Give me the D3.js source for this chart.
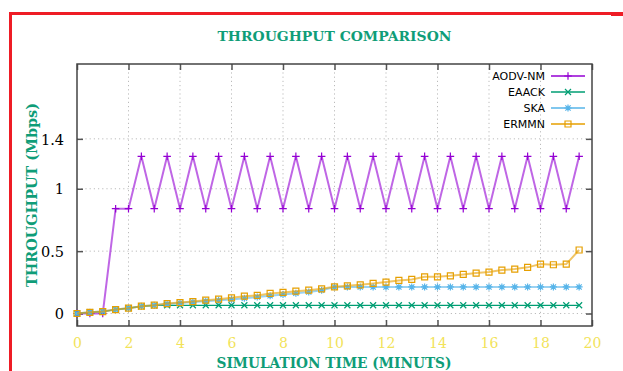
<!DOCTYPE html>
<html>
<head>
<meta charset="utf-8">
<script src="https://cdn.jsdelivr.net/npm/d3@7"></script>
<style>
  body { margin: 0; background: #fff; }
  svg { display: block; }
</style>
</head>
<body>
<div class="chart"></div>
<script>
// data
var simTime = d3.range(0, 20, 0.5); // 0 .. 19.5
var aodvNm = [0, 0, 0, 0.84, 0.84, 1.26, 0.84, 1.26, 0.84, 1.26, 0.84, 1.26, 0.84, 1.26, 0.84, 1.26,
  0.84, 1.26, 0.84, 1.26, 0.84, 1.26, 0.84, 1.26, 0.84, 1.26, 0.84, 1.26, 0.84, 1.26,
  0.84, 1.26, 0.84, 1.26, 0.84, 1.26, 0.84, 1.26, 0.84, 1.26];
var eaack = [0, 0.01, 0.016, 0.032, 0.043, 0.057, 0.065, 0.066, 0.066, 0.066, 0.066, 0.066, 0.066, 0.066,
  0.066, 0.066, 0.066, 0.066, 0.066, 0.066, 0.066, 0.066, 0.066, 0.066, 0.066, 0.066, 0.066,
  0.066, 0.066, 0.066, 0.066, 0.066, 0.066, 0.066, 0.066, 0.066, 0.066, 0.066, 0.066, 0.066];
var ska = [0, 0.01, 0.016, 0.032, 0.043, 0.058, 0.066, 0.077, 0.084, 0.092, 0.099, 0.106, 0.113, 0.123,
  0.132, 0.142, 0.152, 0.162, 0.172, 0.186, 0.212, 0.213, 0.213, 0.213, 0.213, 0.213, 0.213,
  0.213, 0.213, 0.213, 0.213, 0.213, 0.213, 0.213, 0.213, 0.213, 0.213, 0.213, 0.213, 0.213];
var ermmn = [0, 0.01, 0.016, 0.032, 0.043, 0.059, 0.067, 0.08, 0.088, 0.096, 0.107, 0.115, 0.126, 0.139,
  0.145, 0.161, 0.169, 0.179, 0.187, 0.198, 0.214, 0.222, 0.23, 0.241, 0.252, 0.265, 0.273,
  0.294, 0.294, 0.302, 0.313, 0.324, 0.332, 0.348, 0.356, 0.37, 0.396, 0.391, 0.396, 0.509];
var seriesNames = ["AODV-NM", "EAACK", "SKA", "ERMMN"];
var seriesColors = ["#9400d3", "#009e73", "#56b4e9", "#e69f00"];
var seriesMarks = ["plus", "cross", "star", "square"];
var yTickValues = [0, 0.5, 1, 1.4];
var xTickValues = [0, 2, 4, 6, 8, 10, 12, 14, 16, 18, 20];

var svgWidth = 623;
var svgHeight = 371;
var margin = { top: 64, right: 31, bottom: 45, left: 77 };
var width = svgWidth - margin.left - margin.right;
var height = svgHeight - margin.top - margin.bottom;

var svg = d3.select(".chart")
  .append("svg")
  .attr("width", svgWidth)
  .attr("height", svgHeight);

// red frame around the figure
svg.append("path")
  .attr("d", "M10.5,371 L10.5,13.5 L623,13.5")
  .attr("fill", "none")
  .attr("stroke", "#ee1c25")
  .attr("stroke-width", 3);
svg.append("line")
  .attr("x1", 611).attr("x2", 623).attr("y1", 14.5).attr("y2", 14.5)
  .attr("stroke", "#ee1c25").attr("stroke-width", 3);

var chartGroup = svg.append("g")
  .attr("transform", `translate(${margin.left}, ${margin.top})`);

var xScale = d3.scaleLinear().domain([0, 20]).range([0, width]);
var yScale = d3.scaleLinear().domain([-0.1, 2.0]).range([height, 0]);

// dotted grid
chartGroup.append("g")
  .selectAll("line")
  .data(xTickValues.filter(d => d > 0 && d < 20))
  .enter()
  .append("line")
  .attr("x1", d => xScale(d)).attr("x2", d => xScale(d))
  .attr("y1", 0).attr("y2", height)
  .attr("stroke", "#bbb")
  .attr("stroke-dasharray", "1.2,3");
chartGroup.append("g")
  .selectAll("line")
  .data(yTickValues)
  .enter()
  .append("line")
  .attr("x1", 0).attr("x2", width)
  .attr("y1", d => yScale(d)).attr("y2", d => yScale(d))
  .attr("stroke", "#bbb")
  .attr("stroke-dasharray", "1.2,3");

// axes: ticks drawn inward, mirrored on all sides
var bottomAxis = d3.axisBottom(xScale).tickValues(xTickValues).tickSize(-6).tickPadding(12);
var topAxis = d3.axisTop(xScale).tickValues(xTickValues).tickSize(-6).tickFormat("");
var leftAxis = d3.axisLeft(yScale).tickValues(yTickValues).tickSize(-6).tickPadding(13).tickFormat(d3.format("~g"));
var rightAxis = d3.axisRight(yScale).tickValues(yTickValues).tickSize(-6).tickFormat("");

var xAxis = chartGroup.append("g")
  .attr("transform", `translate(0, ${height})`)
  .call(bottomAxis);
chartGroup.append("g").call(topAxis);
var yAxis = chartGroup.append("g").call(leftAxis);
chartGroup.append("g").attr("transform", `translate(${width}, 0)`).call(rightAxis);

chartGroup.selectAll(".domain").remove();
chartGroup.selectAll(".tick line")
  .attr("stroke", "#555")
  .attr("stroke-width", 1.5);

xAxis.selectAll("text")
  .attr("fill", "#f2e35a")
  .style("font-family", "'DejaVu Serif', serif")
  .style("font-size", "14px");
yAxis.selectAll("text")
  .attr("fill", "#000")
  .attr("dy", "0.36em")
  .style("font-family", "'DejaVu Serif', serif")
  .style("font-size", "14.5px");

// plot border
chartGroup.append("rect")
  .attr("x", 0).attr("y", 0)
  .attr("width", width).attr("height", height)
  .attr("fill", "none")
  .attr("stroke", "#444")
  .attr("stroke-width", 1.5);

var allSeries = [aodvNm, eaack, ska, ermmn];
var markSizes = [3.8, 3, 3.5, 3];

function markPath(type, s) {
  if (type === "plus") return `M${-s},0H${s}M0,${-s}V${s}`;
  if (type === "cross") return `M${-s},${-s}L${s},${s}M${-s},${s}L${s},${-s}`;
  if (type === "star") return `M${-s},0H${s}M0,${-s}V${s}M${-s * 0.75},${-s * 0.75}L${s * 0.75},${s * 0.75}M${-s * 0.75},${s * 0.75}L${s * 0.75},${-s * 0.75}`;
  return `M${-s},${-s}H${s}V${s}H${-s}Z`;
}

var line = d3.line()
  .x((d, i) => xScale(simTime[i]))
  .y(d => yScale(d));

allSeries.forEach(function(values, k) {
  var g = chartGroup.append("g");
  g.append("path")
    .attr("d", line(values))
    .attr("fill", "none")
    .attr("stroke", seriesColors[k])
    .attr("stroke-width", k === 1 ? 1.2 : 2)
    .attr("stroke-opacity", k === 1 ? 1 : 0.6);
  g.selectAll("path.mark")
    .data(values)
    .enter()
    .append("path")
    .attr("class", "mark")
    .attr("transform", (d, i) => `translate(${xScale(simTime[i])}, ${yScale(d)})`)
    .attr("d", markPath(seriesMarks[k], markSizes[k]))
    .attr("fill", "none")
    .attr("stroke", seriesColors[k])
    .attr("stroke-width", 1.2);
});

// legend
var legend = svg.append("g");
seriesNames.forEach(function(name, k) {
  var ly = 76 + k * 16;
  legend.append("text")
    .attr("x", 545).attr("y", ly)
    .attr("dy", "0.35em")
    .attr("text-anchor", "end")
    .style("font-family", "'DejaVu Sans', sans-serif")
    .style("font-size", "11px")
    .attr("fill", "#000")
    .text(name);
  legend.append("line")
    .attr("x1", 551).attr("x2", 585).attr("y1", ly).attr("y2", ly)
    .attr("stroke", seriesColors[k])
    .attr("stroke-width", 1.3);
  legend.append("path")
    .attr("transform", `translate(568, ${ly})`)
    .attr("d", markPath(seriesMarks[k], markSizes[k]))
    .attr("fill", "none")
    .attr("stroke", seriesColors[k])
    .attr("stroke-width", 1.2);
});

// titles
svg.append("text")
  .attr("x", 334.5).attr("y", 41)
  .attr("text-anchor", "middle")
  .attr("fill", "#0f9d78")
  .attr("textLength", 234).attr("lengthAdjust", "spacingAndGlyphs")
  .style("font-family", "'DejaVu Serif', serif")
  .style("font-weight", "bold")
  .style("font-size", "13px")
  .text("THROUGHPUT COMPARISON");

svg.append("text")
  .attr("x", 334).attr("y", 368)
  .attr("text-anchor", "middle")
  .attr("fill", "#0f9d78")
  .attr("textLength", 235).attr("lengthAdjust", "spacingAndGlyphs")
  .style("font-family", "'DejaVu Serif', serif")
  .style("font-weight", "bold")
  .style("font-size", "14px")
  .text("SIMULATION TIME (MINUTS)");

svg.append("text")
  .attr("transform", "translate(37, 195) rotate(-90)")
  .attr("text-anchor", "middle")
  .attr("fill", "#0f9d78")
  .attr("textLength", 184).attr("lengthAdjust", "spacingAndGlyphs")
  .style("font-family", "'DejaVu Serif', serif")
  .style("font-weight", "bold")
  .style("font-size", "14px")
  .text("THROUGHPUT (Mbps)");
</script>
</body>
</html>
